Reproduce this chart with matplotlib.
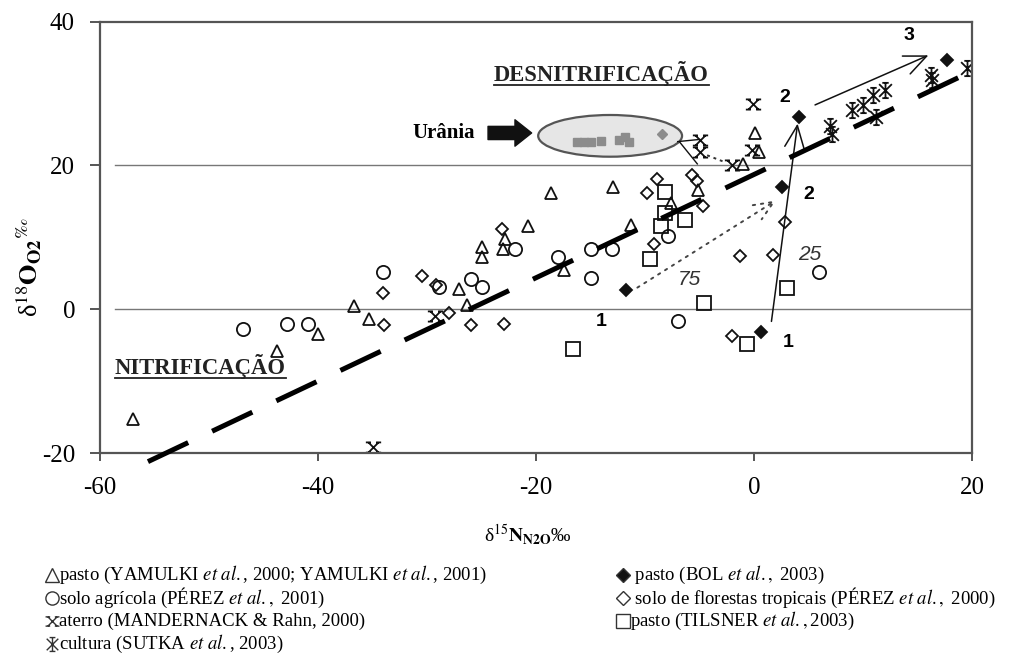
import matplotlib
matplotlib.use('Agg')
import matplotlib.pyplot as plt
from matplotlib.patches import Ellipse
from matplotlib.path import Path
from matplotlib.lines import Line2D

plt.rcParams['font.family'] = ['Liberation Serif', 'DejaVu Serif']
plt.rcParams['mathtext.fontset'] = 'stix'
plt.rcParams['axes.unicode_minus'] = False

# ---- data (d15N, d18O) ----
yamulki_x = [-57.0, -43.8, -40.0, -36.7, -35.3, -27.1, -26.3, -25.0, -25.0, -22.8, -23.0,
             -20.7, -18.6, -17.4, -12.9, -11.3, -7.6, -5.1, -1.0, 0.1, 0.5]
yamulki_y = [-15.3, -5.8, -3.5, 0.5, -1.3, 2.8, 0.6, 8.7, 7.3, 9.8, 8.4,
             11.6, 16.2, 5.5, 17.0, 11.7, 14.8, 16.6, 20.2, 24.5, 21.8]

agricola_x = [-46.9, -42.8, -40.9, -34.0, -28.9, -26.0, -25.0, -21.9, -18.0, -15.0, -15.0,
              -13.0, -7.9, -7.0, 6.0]
agricola_y = [-2.8, -2.0, -2.0, 5.2, 3.1, 4.2, 3.1, 8.3, 7.3, 8.3, 4.4,
              8.3, 10.2, -1.7, 5.2]

aterro_x = [-35.0, -29.3, -5.0, -5.0, -2.0, -0.1, -0.2]
aterro_y = [-19.1, -1.0, 23.5, 21.9, 20.1, 28.5, 22.2]

cultura_x = [7.0, 7.2, 9.0, 10.0, 10.9, 12.0, 11.2, 16.2, 16.3, 19.5]
cultura_y = [25.4, 24.4, 27.7, 28.4, 29.8, 30.5, 26.7, 32.6, 31.9, 33.6]

bol_x = [-11.7, 0.6, 2.6, 4.1, 17.7]
bol_y = [2.6, -3.2, 17.0, 26.7, 34.7]

florestas_x = [-34.0, -33.9, -30.5, -29.2, -28.0, -26.0, -22.9, -23.1, -9.8, -8.9, -9.2,
               -5.7, -5.2, -4.7, -1.3, 1.7, -2.0, 2.8]
florestas_y = [2.3, -2.2, 4.6, 3.4, -0.6, -2.2, -2.0, 11.2, 16.1, 18.1, 9.1,
               18.7, 17.8, 14.4, 7.4, 7.6, -3.7, 12.1]

tilsner_x = [-16.6, -9.5, -8.5, -8.2, -8.2, -6.3, -4.6, -0.6, 3.0]
tilsner_y = [-5.5, 7.0, 11.5, 13.4, 16.3, 12.4, 0.8, -4.9, 3.0]

urania_sq_x = [-16.2, -15.6, -15.0, -14.0, -12.4, -11.8, -11.5]
urania_sq_y = [23.2, 23.3, 23.2, 23.4, 23.5, 23.9, 23.3]
urania_d_x = [-8.4]
urania_d_y = [24.3]

trend_x = [-55.6, 18.9]
trend_y = [-21.2, 32.3]

legend_left = [
    'pasto (YAMULKI $\\mathit{et\\ al.}$, 2000; YAMULKI $\\mathit{et\\ al.}$, 2001)',
    'solo agrícola (PÉREZ $\\mathit{et\\ al.,}$ 2001)',
    'aterro (MANDERNACK & Rahn, 2000)',
    'cultura (SUTKA $\\mathit{et\\ al.}$, 2003)',
]
legend_right = [
    ' pasto (BOL $\\mathit{et\\ al.,}$ 2003)',
    ' solo de florestas tropicais (PÉREZ $\\mathit{et\\ al.,}$ 2000)',
    'pasto (TILSNER $\\mathit{et\\ al.,}$2003)',
]

M, L = Path.MOVETO, Path.LINETO
aterro_marker = Path([(-1, -1), (1, 1), (-1, 1), (1, -1),
                      (-1.5, 1), (-0.5, 1), (0.5, 1), (1.5, 1),
                      (-1.5, -1), (-0.5, -1), (0.5, -1), (1.5, -1)],
                     [M, L, M, L, M, L, M, L, M, L, M, L])
cultura_marker = Path([(-1, -1), (1, 1), (-1, 1), (1, -1), (0, -1.2), (0, 1.2),
                       (-0.5, 1.2), (0.5, 1.2), (-0.5, -1.2), (0.5, -1.2)],
                      [M, L, M, L, M, L, M, L, M, L])

fig = plt.figure(figsize=(10.25, 6.66), dpi=100)
ax = fig.add_axes([100 / 1025, 1 - 453 / 666, 872 / 1025, 431.5 / 666])
ax.set_xlim(-60, 20)
ax.set_ylim(-20, 40)

for s in ax.spines.values():
    s.set_linewidth(1.6)
    s.set_color('#555555')
ax.set_xticks([-60, -40, -20, 0, 20])
ax.set_yticks([-20, 0, 20, 40])
ax.tick_params(axis='both', direction='out', length=7, width=1.4, color='#555555',
               labelsize=18, pad=11)
ax.tick_params(axis='x', length=6)

for g in (0, 20):
    ax.axhline(g, xmin=0.017, color='#777777', lw=1.0, zorder=0)

common = dict(linestyle='none', mec='#111111', mew=1.3, zorder=2)
ax.plot(yamulki_x, yamulki_y, marker='^', ms=9, mfc='none', **common)
ax.plot(agricola_x, agricola_y, marker='o', ms=9.5, mfc='none', **common)
ax.plot(aterro_x, aterro_y, marker=aterro_marker, ms=11, **common)
ax.plot(cultura_x, cultura_y, marker=cultura_marker, ms=11, **common)
ax.plot(florestas_x, florestas_y, marker='D', ms=6.5, mfc='none', **common)
ax.plot(tilsner_x, tilsner_y, marker='s', ms=9.5, mfc='none', **common)
ax.plot(bol_x, bol_y, marker='D', ms=6.5, mfc='#111111', **common)

# Urânia ellipse
ax.add_patch(Ellipse((-13.2, 24.1), 13.2, 5.8, facecolor='#e6e6e6', edgecolor='#555555',
                     lw=1.6, zorder=1))
ax.plot(urania_sq_x, urania_sq_y, linestyle='none', marker='s', ms=5.5, color='#8c8c8c', zorder=2)
ax.plot(urania_d_x, urania_d_y, linestyle='none', marker='D', ms=5, color='#8c8c8c', zorder=2)
ax.plot([-7.0, -5.0], [23.3, 23.6], color='#111111', lw=1.0)
ax.plot([-6.8, -5.2], [23.2, 20.2], color='#111111', lw=1.0)
ax.plot([-4.3, -2.6], [21.4, 20.4], color='#333333', lw=1.4, linestyle=(0, (1.5, 2)))

# dashed trend line
ax.plot(trend_x, trend_y, color='black', lw=3.6, dashes=(8.9, 5.3), dash_capstyle='butt',
        clip_on=False, zorder=4)

# arrows
thin = dict(arrowstyle='->,head_length=1.6,head_width=0.7', color='#111111', lw=1.1,
            shrinkA=0, shrinkB=0)
ax.annotate('', xy=(4.0, 25.8), xytext=(1.6, -1.7), arrowprops=thin, zorder=3)
ax.annotate('', xy=(16.0, 35.3), xytext=(5.6, 28.4), arrowprops=thin, zorder=3)
ax.annotate('', xy=(2.0, 15.1), xytext=(-10.7, 3.0),
            arrowprops=dict(arrowstyle='->,head_length=1.4,head_width=0.6', color='#444444',
                            lw=1.4, linestyle=(0, (1.2, 3)), shrinkA=0, shrinkB=0), zorder=3)
ax.annotate('', xy=(-20.4, 24.5), xytext=(-24.4, 24.5),
            arrowprops=dict(arrowstyle='simple,head_length=1.2,head_width=1.9,tail_width=0.95',
                            color='#111111', shrinkA=0, shrinkB=0))

# labels on the plot
sans_b = dict(family='Liberation Sans', weight='bold', fontsize=14, ha='center', va='center')
ax.text(-14.0, -1.7, '1', **sans_b)
ax.text(3.1, -4.6, '1', **sans_b)
ax.text(2.8, 29.5, '2', **sans_b)
ax.text(5.0, 15.9, '2', **sans_b)
ax.text(14.2, 38.1, '3', **sans_b)
sans_i = dict(family='Liberation Sans', style='italic', fontsize=15, ha='center', va='center',
              color='#333333')
ax.text(-5.9, 4.1, '75', **sans_i)
ax.text(5.1, 7.6, '25', **sans_i)
ax.text(-28.5, 24.5, 'Urânia', fontsize=15, weight='bold', ha='center', va='center')

t1 = ax.text(-14.0, 32.8, 'DESNITRIFICAÇÃO', fontsize=16.3, weight='bold', ha='center',
             va='center', color='#222222')
t2 = ax.text(-50.8, -8.0, 'NITRIFICAÇÃO', fontsize=16.3, weight='bold', ha='center',
             va='center', color='#222222')

ax.set_xlabel('δ$^{15}$$\\mathbf{N}_{\\mathbf{N2O}}$‰', fontsize=14)
ax.xaxis.set_label_coords(0.491, -0.16)
ax.set_ylabel('δ$^{18}$$\\mathbf{O}_{\\mathbf{O2}}$$^{‰}$', fontsize=19)
ax.yaxis.set_label_coords(-0.064, 0.43)

# underline the two process labels
fig.canvas.draw()
r = fig.canvas.get_renderer()
inv = ax.transAxes.inverted()
for t in (t1, t2):
    bb = t.get_window_extent(r)
    (x0, y0), (x1, _) = inv.transform([(bb.x0, bb.y0 + 1), (bb.x1, bb.y0)])
    ax.plot([x0, x1], [y0, y0], transform=ax.transAxes, color='#222222', lw=1.3, clip_on=False)

# legend, written out below the plot
left_marks = [dict(marker='^', ms=9.5, mfc='none'), dict(marker='o', ms=9.5, mfc='none'),
              dict(marker=aterro_marker, ms=10), dict(marker=cultura_marker, ms=10)]
right_marks = [dict(marker='D', ms=7, mfc='#111111'), dict(marker='D', ms=7, mfc='none'),
               dict(marker='s', ms=9.5, mfc='none')]
rows = [575, 598, 621, 644]
for lab, mk, yy in zip(legend_left, left_marks, rows):
    fy = 1 - yy / 666
    fig.add_artist(Line2D([52 / 1025], [fy], transform=fig.transFigure, mec='#333333',
                          mew=1.0, **mk))
    fig.text(59 / 1025, fy, lab, fontsize=13.5, va='center', ha='left')
for lab, mk, yy in zip(legend_right, right_marks, rows):
    fy = 1 - yy / 666
    fig.add_artist(Line2D([623 / 1025], [fy], transform=fig.transFigure, mec='#333333',
                          mew=1.0, **mk))
    fig.text(630 / 1025, fy, lab, fontsize=13.5, va='center', ha='left')

fig.savefig('out.png', dpi=100)
